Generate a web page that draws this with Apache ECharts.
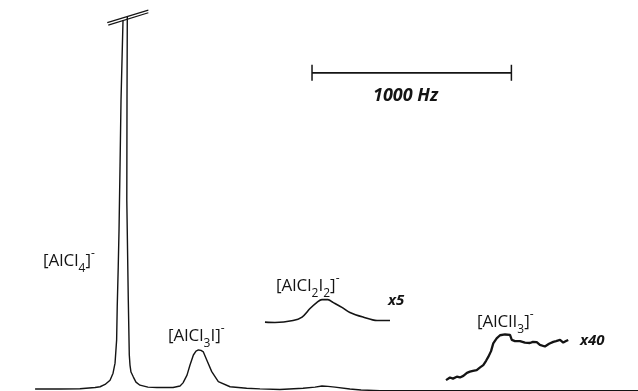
<!DOCTYPE html>
<html>
<head>
<meta charset="utf-8">
<title>27Al NMR – chloro-iodo aluminates</title>
<script src="https://cdn.jsdelivr.net/npm/echarts@6/dist/echarts.min.js"></script>
<style>
  html, body { margin: 0; padding: 0; background: #ffffff; }
  #chart { width: 638px; height: 391px; }
</style>
</head>
<body>
<div id="chart"></div>
<script>
// Frequency offset (Hz) from the [AlCl4]- resonance, and intensity (arbitrary units).

// Main trace, rising flank up to where the [AlCl4]- peak goes off scale
const mainRise = [
  [-446, 0.0], [-321, 0.0], [-221, 0.1], [-145, 0.4], [-120, 0.6], [-95, 1.2],
  [-70, 2.3], [-55, 4.1], [-45, 6.7], [-37, 12.7], [-34, 21.3], [-29, 31.5],
  [-25, 41.1], [-20, 57.4], [-15, 74.7], [-10, 85.0], [-5, 95.3]
];

// Main trace, from the falling flank of [AlCl4]- to the end of the sweep
const mainFall = [
  [16.5, 96.1], [15, 74.7], [14, 48.8], [21.5, 23.0], [26.5, 8.8], [30, 6.2],
  [35, 4.4], [47, 3.1], [60, 1.8], [80, 1.0], [120, 0.5], [165, 0.4],
  [246, 0.4], [281, 0.8], [296, 1.6], [316, 3.6], [331, 6.2], [348, 8.8],
  [361, 9.8], [373, 10.1], [386, 10.0], [398, 9.6], [415, 7.5], [440, 4.5],
  [473, 1.9], [532, 0.6], [615, 0.2], [682, 0.05], [782, -0.1], [898, 0.2],
  [958, 0.5], [993, 0.8], [1023, 0.7], [1058, 0.5], [1133, 0.0], [1189, -0.26],
  [1284, -0.4], [2578, -0.4]
];

// [AlCl2I2]- region recorded at x5 gain (relative to its own baseline)
const traceX5 = [
  [707, 0.08], [757, 0.0], [848, 0.5], [893, 1.4], [933, 3.6], [968, 5.2],
  [993, 5.9], [1023, 5.9], [1048, 5.2], [1093, 3.9], [1133, 2.6], [1199, 1.4],
  [1269, 0.5], [1334, 0.5]
];

// [AlClI3]- region recorded at x40 gain (relative to its own baseline)
const traceX40 = [
  [1615, 0.5], [1635, 1.2], [1650, 0.9], [1669, 1.4], [1685, 1.2], [1702, 1.6],
  [1720, 2.4], [1735, 2.7], [1750, 2.9], [1769, 3.1], [1786, 3.8], [1802, 4.4],
  [1816, 5.5], [1827, 6.5], [1841, 8.0], [1852, 10.0], [1869, 11.3], [1886, 12.1],
  [1911, 12.3], [1936, 12.2], [1945, 10.9], [1961, 10.6], [1986, 10.6], [2011, 10.2],
  [2036, 10.1], [2051, 10.4], [2070, 10.3], [2086, 9.6], [2111, 9.2], [2132, 9.9],
  [2153, 10.4], [2167, 10.6], [2187, 10.9], [2203, 10.2], [2217, 10.6], [2228, 10.9]
];

// Axis-break strokes across the off-scale peak
const breakUpper = [[-84, 94.65], [122, 97.9]];
const breakLower = [[-79, 94.0], [122, 97.2]];

// 1000 Hz scale bar
const scaleBar = [[943, 81.7], [1943, 81.7]];
const scaleLabel = '1000 Hz';

// Vertical offsets of the expanded traces
const X5_OFFSET = 17.2;
const X40_OFFSET = 1.8;

const shift = (arr, dy) => arr.map(p => [p[0], p[1] + dy]);

const INK = '#141414';
const FONT = '"Open Sans", "DejaVu Sans", sans-serif';

const rich = {
  b: { fontSize: 17, fontFamily: FONT, color: INK },
  sub: { fontSize: 12, fontFamily: FONT, color: INK, verticalAlign: 'bottom', padding: [0, 0, -5, 0] },
  sup: { fontSize: 12, fontFamily: FONT, color: INK, verticalAlign: 'top', padding: [-5, 0, 0, 0] }
};

function species(text, left, top) {
  return {
    type: 'text', left: left, top: top, silent: true,
    style: { text: text, rich: rich, fill: INK }
  };
}

function gain(text, left, top) {
  return {
    type: 'text', left: left, top: top, silent: true,
    style: { text: text, fill: INK, font: 'italic bold 15px ' + FONT }
  };
}

const chart = echarts.init(document.getElementById('chart'), null, { renderer: 'canvas' });

const lineBase = { type: 'line', showSymbol: false, symbol: 'none', animation: false, silent: true, clip: false };

chart.setOption({
  backgroundColor: '#ffffff',
  animation: false,
  grid: { left: 0, right: 0, top: 0, bottom: 0 },
  xAxis: { type: 'value', min: -622, max: 2578, show: false },
  yAxis: { type: 'value', min: -0.5, max: 100.5, show: false },
  series: [
    Object.assign({}, lineBase, { name: 'rise', data: mainRise, lineStyle: { color: INK, width: 1.4 } }),
    Object.assign({}, lineBase, { name: 'fall', data: mainFall, lineStyle: { color: INK, width: 1.4 } }),
    Object.assign({}, lineBase, { name: 'x5', data: shift(traceX5, X5_OFFSET), smooth: 0.3, lineStyle: { color: INK, width: 1.6 } }),
    Object.assign({}, lineBase, { name: 'x40', data: shift(traceX40, X40_OFFSET), lineStyle: { color: INK, width: 2.3 } }),
    Object.assign({}, lineBase, { name: 'breakA', data: breakUpper, lineStyle: { color: INK, width: 1.2 } }),
    Object.assign({}, lineBase, { name: 'breakB', data: breakLower, lineStyle: { color: INK, width: 1.2 } }),
    Object.assign({}, lineBase, {
      name: 'scale', data: scaleBar, showSymbol: true, symbol: 'rect', symbolSize: [1.5, 16],
      itemStyle: { color: INK }, lineStyle: { color: INK, width: 1.8 }
    })
  ],
  graphic: [
    species('{b|[AlCl}{sub|4}{b|]}{sup|-}', 43, 248),
    species('{b|[AlCl}{sub|3}{b|I]}{sup|-}', 168, 323),
    species('{b|[AlCl}{sub|2}{b|I}{sub|2}{b|]}{sup|-}', 276, 273),
    species('{b|[AlClI}{sub|3}{b|]}{sup|-}', 477, 309),
    gain('x5', 388, 293),
    gain('x40', 580, 333),
    {
      type: 'text', left: 373, top: 87, silent: true,
      style: { text: scaleLabel, fill: INK, font: 'italic bold 18px ' + FONT }
    }
  ]
});
</script>
</body>
</html>
